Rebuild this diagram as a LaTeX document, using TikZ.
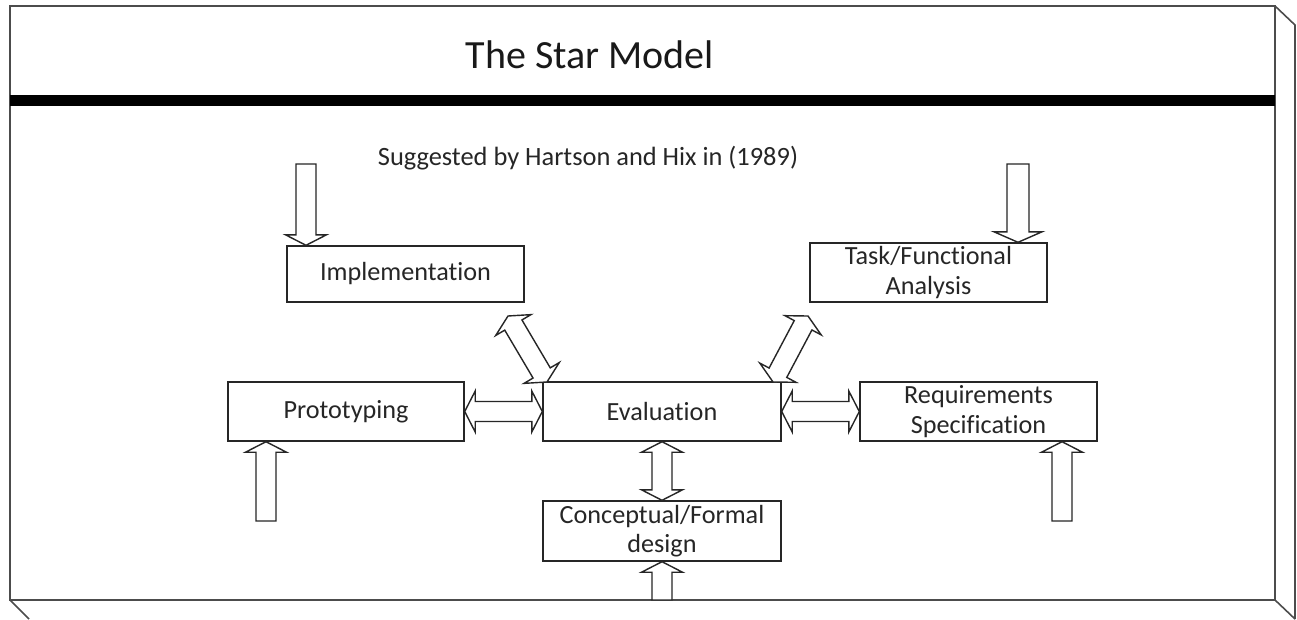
\documentclass[tikz,border=0pt]{standalone}
\usepackage{fontspec}
\setmainfont{Carlito}[Ligatures=NoCommon]
\usetikzlibrary{calc}

% block-arrow geometry (pt): head length, half head width, half shaft width
\def\bh{10.5}
\def\bH{20.5}
\def\bs{10}

% measure the segment from #1 to #2 (plain numbers, in pt)
\newcommand\measureseg[2]{%
  \path let \p1=($(#2)-(#1)$), \n1={atan2(\y1,\x1)}, \n2={veclen(\x1,\y1)} in
    \pgfextra{%
      \pgfmathparse{\n1}\xdef\segang{\pgfmathresult}%
      \pgfmathparse{\n2}\xdef\seglen{\pgfmathresult}%
      \pgfmathparse{\n2-\bh}\xdef\segmid{\pgfmathresult}};}

% hollow block arrow with a head at #2 only
\newcommand\oneheadarrow[2]{%
  \measureseg{#1}{#2}%
  \begin{scope}[shift={(#1)}, rotate=\segang]
    \draw[barrow] (0pt,\bs pt) -- (\segmid pt,\bs pt) -- (\segmid pt,\bH pt) -- (\seglen pt,0pt)
      -- (\segmid pt,-\bH pt) -- (\segmid pt,-\bs pt) -- (0pt,-\bs pt) -- cycle;
  \end{scope}}

% hollow block arrow with heads at both ends
\newcommand\twoheadarrow[2]{%
  \measureseg{#1}{#2}%
  \begin{scope}[shift={(#1)}, rotate=\segang]
    \draw[barrow] (0pt,0pt) -- (\bh pt,\bH pt) -- (\bh pt,\bs pt) -- (\segmid pt,\bs pt)
      -- (\segmid pt,\bH pt) -- (\seglen pt,0pt) -- (\segmid pt,-\bH pt) -- (\segmid pt,-\bs pt)
      -- (\bh pt,-\bs pt) -- (\bh pt,-\bH pt) -- cycle;
  \end{scope}}

\begin{document}
\begin{tikzpicture}[x=1pt, y=-1pt,
  box/.style={draw=black!85, line width=1.4pt, fill=white, minimum width=237pt,
    minimum height=58pt, inner sep=0pt, align=center,
    font=\fontsize{26.2}{29.5}\selectfont, text=black!85},
  barrow/.style={draw=black!85, fill=white, line width=1.4pt, line join=miter},
  frameline/.style={draw=black!70, line width=1.6pt}]
\useasboundingbox (0,0) rectangle (1297,619);
\fill[white] (0,0) rectangle (1297,619);

% slab-like frame with its right and bottom faces
\draw[frameline] (1275,6) -- (1295,25) -- (1295,619);
\draw[frameline] (1275,600) -- (1295,619);
\draw[frameline] (10,600) -- (29,619);
\draw[frameline] (10,6) rectangle (1275,600);
\fill[black] (10,95) rectangle (1275,106);

% headings
\node (title) at (590,55) [font=\fontsize{40}{44}\selectfont, text=black!90] {The Star Model};
\node (credit) at (588,158) [font=\fontsize{26.4}{29}\selectfont, text=black!85] {Suggested by Hartson and Hix in (1989)};

% stages
\node[box, minimum height=56pt] (impl) at (405.5,274) {\raisebox{-2pt}{Implementation}};
\node[box, minimum height=59pt] (task) at (928.5,272.5) {Task/Functional\\Analysis};
\node[box, minimum width=236pt, minimum height=59pt] (proto) at (346,411.5) {Prototyping};
\node[box, minimum width=238pt, minimum height=59pt] (eval) at (662,411.5) {Evaluation};
\node[box, minimum height=59pt] (req) at (978.5,411.5) {Requirements\\Specification};
\node[box, minimum width=238pt, minimum height=60pt] (design) at (662,531) {Conceptual/Formal\\design};

% free ends of the entry arrows and ends of the diagonal links
\coordinate (implIn) at (306,164);
\coordinate (taskIn) at (1018,164);
\coordinate (protoIn) at (266,521);
\coordinate (reqIn) at (1062,521);
\coordinate (designIn) at (662,600);
\coordinate (implLink) at (508,316);
\coordinate (evalLinkL) at (547,382);
\coordinate (taskLink) at (808,316);
\coordinate (evalLinkR) at (773,382);

% entry arrows
\oneheadarrow{implIn}{implIn |- impl.north}
\oneheadarrow{protoIn}{protoIn |- proto.south}
\oneheadarrow{reqIn}{reqIn |- req.south}
\oneheadarrow{designIn}{design.south}
{\def\bs{11}\def\bH{24}\oneheadarrow{taskIn}{taskIn |- task.north}}

% two-way links to evaluation
\twoheadarrow{proto.east}{eval.west}
\twoheadarrow{eval.east}{req.west}
\twoheadarrow{eval.south}{design.north}
\twoheadarrow{implLink}{evalLinkL}
\twoheadarrow{taskLink}{evalLinkR}
\end{tikzpicture}
\end{document}
